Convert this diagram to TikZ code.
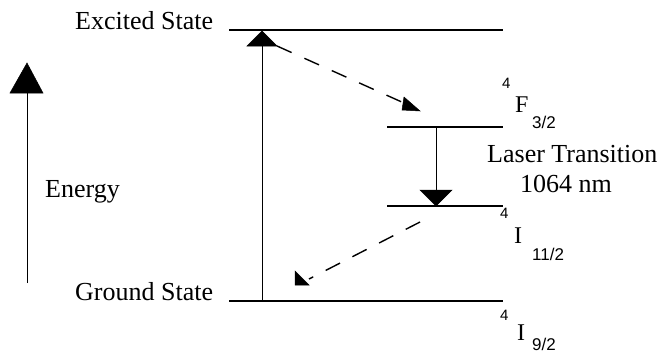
\documentclass[tikz,border=0pt]{standalone}
\usepackage{fontspec}
\setmainfont{Liberation Serif}
\setsansfont{Liberation Sans}
\begin{document}
\begin{tikzpicture}[x=1pt,y=-1pt,
  level/.style={line width=2.6pt},
  thinarrow/.style={line width=1pt},
  dasharrow/.style={line width=1.4pt,dash pattern=on 16pt off 14pt},
  head/.style={fill=black,draw=black,line width=0.5pt,line join=miter},
  lbl/.style={inner sep=0pt,anchor=base west,font=\fontsize{26}{28}\selectfont},
  sup/.style={inner sep=0pt,anchor=base west,font=\sffamily\fontsize{15}{17}\selectfont},
  main/.style={inner sep=0pt,anchor=base west,font=\fontsize{24}{26}\selectfont},
  sub/.style={inner sep=0pt,anchor=base west,font=\sffamily\fontsize{17}{19}\selectfont}]
\useasboundingbox (0,0) rectangle (663,354);
% level end points
\coordinate (exL) at (229,30); \coordinate (exR) at (503,30);
\coordinate (gL) at (229,301); \coordinate (gR) at (503,301);
\coordinate (fL) at (387,127); \coordinate (fR) at (503,127);
\coordinate (iL) at (387,206); \coordinate (iR) at (503,206);
\draw[level] (exL) -- (exR);
\draw[level] (gL) -- (gR);
\draw[level] (fL) -- (fR);
\draw[level] (iL) -- (iR);
% pump arrow
\coordinate (pumpS) at (262,300); \coordinate (pumpE) at (262,45);
\draw[thinarrow] (pumpS) -- (pumpE);
\filldraw[head] (262,31) -- (247,46) -- (277,46) -- cycle;
% laser arrow
\coordinate (lasS) at (436,127); \coordinate (lasE) at (436,191);
\draw[thinarrow] (lasS) -- (lasE);
\filldraw[head] (420,190) -- (452,190) -- (436,206) -- cycle;
% energy arrow
\coordinate (enS) at (27,283); \coordinate (enE) at (27,92);
\draw[thinarrow] (enS) -- (enE);
\filldraw[head] (10,93) -- (43,93) -- (27,63) -- cycle;
% dashed decay arrows
\coordinate (d1S) at (277,46); \coordinate (d1E) at (404,103);
\draw[dasharrow] (d1S) -- (d1E);
\filldraw[head] (404,97) -- (420,111) -- (402,110) -- cycle;
\coordinate (d2S) at (420,222); \coordinate (d2E) at (309,279);
\draw[dasharrow] (d2S) -- (d2E);
\filldraw[head] (295,271) -- (295,285) -- (309,285) -- cycle;
% texts
\node[lbl] (excited) at (75,29) {Excited State};
\node[lbl] (ground) at (75,300) {Ground State};
\node[lbl] (energy) at (45,197) {Energy};
\node[lbl] (laser) at (487,162) {Laser Transition};
\node[lbl] (wave) at (520,192) {1064 nm};
\node[sup] (f4) at (502,88) {4};
\node[main] (fF) at (515,112) {F};
\node[sub] (fsub) at (532,128) {3/2};
\node[sup] (i4) at (500,218) {4};
\node[main] (iI) at (514,243) {I};
\node[sub] (isub) at (532,260) {11/2};
\node[sup] (g4) at (500,320) {4};
\node[main] (gI) at (517,340) {I};
\node[sub] (gsub) at (532,350) {9/2};
\end{tikzpicture}
\end{document}
